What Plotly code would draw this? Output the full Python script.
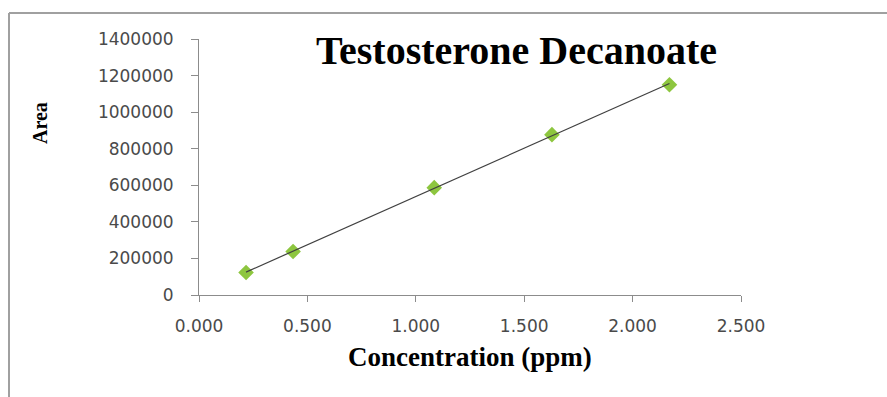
import numpy as np
import plotly.graph_objects as go

# Calibration data: concentration (ppm) vs. peak area
concentration = [0.217, 0.434, 1.085, 1.628, 2.170]
area = [123000, 238000, 587000, 877000, 1150000]

x_ticks = [0.0, 0.5, 1.0, 1.5, 2.0, 2.5]
y_ticks = [0, 200000, 400000, 600000, 800000, 1000000, 1200000, 1400000]

chart_title = "Testosterone Decanoate"
x_title = "Concentration (ppm)"
y_title = "Area"

# Linear trendline fitted over the measured range
slope, intercept = np.polyfit(concentration, area, 1)
fit_x = [min(concentration), max(concentration)]
fit_y = [slope * v + intercept for v in fit_x]

W, H = 887, 397
ML, MR, MT, MB = 199, 146, 39, 102
PW, PH = W - ML - MR, H - MT - MB


def px(xp):
    return (xp - ML) / PW


def py(yp):
    return (H - MB - yp) / PH


fig = go.Figure()
fig.add_trace(go.Scatter(
    x=concentration, y=area, mode="markers",
    marker=dict(symbol="diamond", size=12, color="#8dc63f", line=dict(width=0)),
    showlegend=False, hoverinfo="x+y",
))
fig.add_trace(go.Scatter(
    x=fit_x, y=fit_y, mode="lines",
    line=dict(color="#404040", width=1.2),
    showlegend=False, hoverinfo="skip",
))

axis_font = dict(family="DejaVu Sans", size=17, color="#4a4a4a")

fig.update_xaxes(
    range=[0, 2.5], tickvals=x_ticks, tickformat=".3f",
    showline=True, linecolor="#8c8c8c", linewidth=1,
    ticks="outside", ticklen=6, tickcolor="#8c8c8c",
    showgrid=False, zeroline=False, tickfont=axis_font,
    ticklabelstandoff=10,
)
fig.update_yaxes(
    range=[0, 1400000], tickvals=y_ticks, tickformat="d",
    showline=True, linecolor="#8c8c8c", linewidth=1,
    ticks="outside", ticklen=7, tickcolor="#8c8c8c",
    showgrid=False, zeroline=False, tickfont=axis_font,
    ticklabelstandoff=14,
)

serif_bold = "Liberation Serif"

fig.add_annotation(
    text="<b>%s</b>" % chart_title, xref="paper", yref="paper",
    x=px(516), y=py(50), xanchor="center", yanchor="middle",
    showarrow=False, font=dict(family=serif_bold, size=40, color="#000000"),
)
fig.add_annotation(
    text="<b>%s</b>" % x_title, xref="paper", yref="paper",
    x=px(470), y=py(357), xanchor="center", yanchor="middle",
    showarrow=False, font=dict(family=serif_bold, size=27, color="#000000"),
)
fig.add_annotation(
    text="<b>%s</b>" % y_title, xref="paper", yref="paper",
    x=px(40), y=py(123), xanchor="center", yanchor="middle", textangle=-90,
    showarrow=False, font=dict(family=serif_bold, size=20, color="#000000"),
)

# Outer frame lines (top and left edges)
frame = dict(color="#a0a0a0", width=2)
fig.add_shape(type="line", xref="paper", yref="paper",
              x0=px(9), x1=px(W + 5), y0=py(13), y1=py(13), line=frame)
fig.add_shape(type="line", xref="paper", yref="paper",
              x0=px(9), x1=px(9), y0=py(13), y1=py(H + 5), line=frame)

fig.update_layout(
    width=W, height=H,
    margin=dict(l=ML, r=MR, t=MT, b=MB),
    paper_bgcolor="#ffffff", plot_bgcolor="#ffffff",
)

fig.write_html("out.html")
